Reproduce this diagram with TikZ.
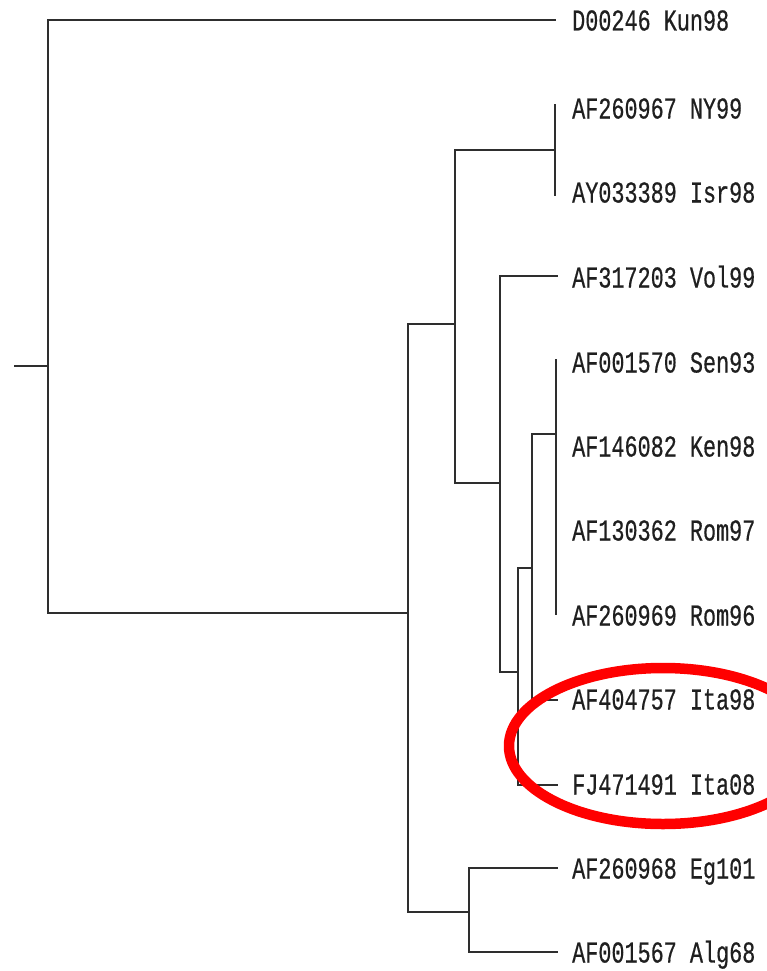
\documentclass[tikz,border=0pt]{standalone}
\usepackage{fontspec}
\newfontfamily\labfont[FakeBold=0.6]{Liberation Mono}
\begin{document}
\begin{tikzpicture}[x=1pt,y=-1pt,
  branch/.style={line width=2pt,draw=black!82,line cap=rect},
  taxon/.style={anchor=base west,inner sep=0pt,text=black!88,
    font=\labfont\fontsize{21.8}{24}\selectfont}]
\useasboundingbox (0,0) rectangle (767,971);
\clip (0,0) rectangle (767,971);
\fill[white] (0,0) rectangle (767,971);
% labels
\newcommand{\taxlab}[3]{\node[taxon] (#1) at (572,#2+10.5) {\scalebox{1}[1.39]{#3}};}
\taxlab{l1}{20}{D00246 Kun98}
\taxlab{l2}{108}{AF260967 NY99}
\taxlab{l3}{192}{AY033389 Isr98}
\taxlab{l4}{277}{AF317203 Vol99}
\taxlab{l5}{362}{AF001570 Sen93}
\taxlab{l6}{446}{AF146082 Ken98}
\taxlab{l7}{530}{AF130362 Rom97}
\taxlab{l8}{615}{AF260969 Rom96}
\taxlab{l9}{699}{AF404757 Ita98}
\taxlab{l10}{784}{FJ471491 Ita08}
\taxlab{l11}{868}{AF260968 Eg101}
\taxlab{l12}{952}{AF001567 Alg68}
% tips
\coordinate (t1) at (555,20);
\coordinate (t2) at (555,105);
\coordinate (t3) at (555,195);
\coordinate (t4) at (557,276);
\coordinate (t5) at (556,360);
\coordinate (t8) at (556,614);
\coordinate (t9) at (557,700);
\coordinate (t10) at (557,785);
\coordinate (t11) at (557,868);
\coordinate (t12) at (557,952);
% internal nodes
\coordinate (stub) at (15,366);
\coordinate (r0) at (48,366);
\coordinate (nA) at (408,613);
\coordinate (nB) at (455,324);
\coordinate (nC) at (469,912);
\coordinate (nD) at (555,150);
\coordinate (nE) at (500,483);
\coordinate (nF) at (518,672);
\coordinate (nG) at (532,568);
\coordinate (nH) at (556,434);
% branches
\draw[branch] (stub) -- (r0);
\draw[branch] (r0) |- (t1);
\draw[branch] (r0) |- (nA);
\draw[branch] (nA) |- (nB);
\draw[branch] (nA) |- (nC);
\draw[branch] (nC) |- (t11);
\draw[branch] (nC) |- (t12);
\draw[branch] (nB) |- (nD);
\draw[branch] (nB) |- (nE);
\draw[branch] (nD) -- (t2);
\draw[branch] (nD) -- (t3);
\draw[branch] (nE) |- (t4);
\draw[branch] (nE) |- (nF);
\draw[branch] (nF) |- (nG);
\draw[branch] (nF) |- (t10);
\draw[branch] (nG) |- (nH);
\draw[branch] (nG) |- (t9);
\draw[branch] (nH) -- (t5);
\draw[branch] (nH) -- (t8);
% highlight
\draw[red,line width=10.5pt] (663,746) ellipse [x radius=154, y radius=78];
\end{tikzpicture}
\end{document}
